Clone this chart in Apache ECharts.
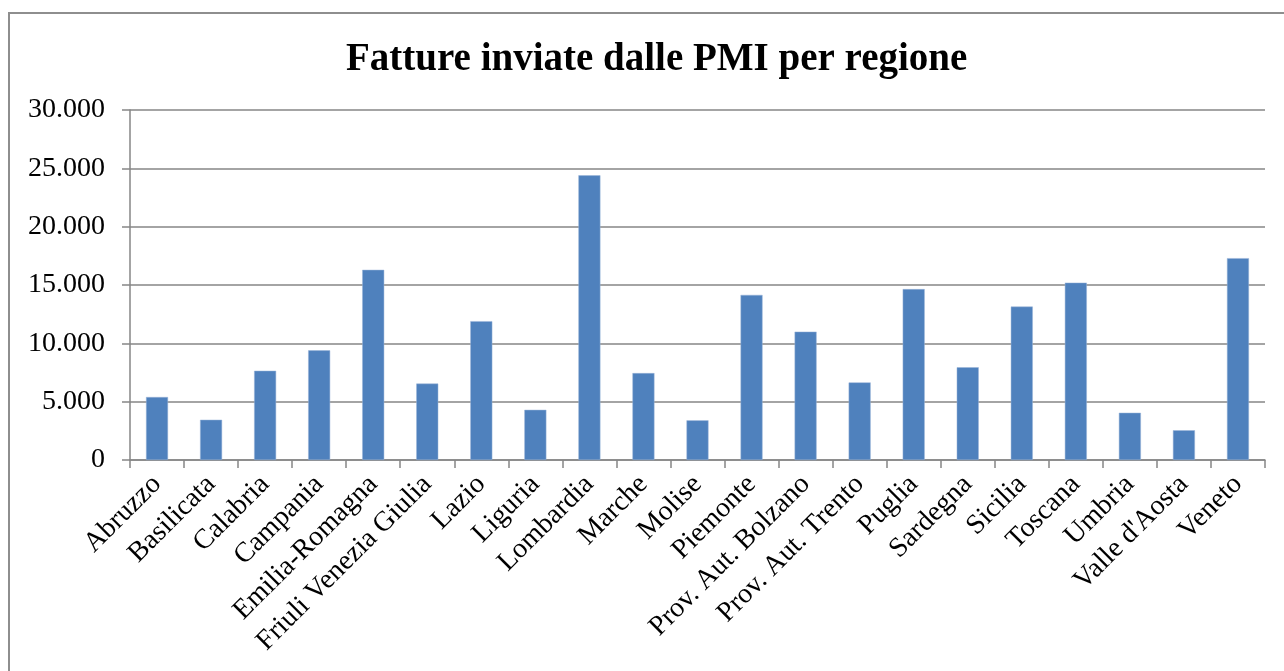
<!DOCTYPE html>
<html>
<head>
<meta charset="utf-8">
<title>Fatture inviate dalle PMI per regione</title>
<script src="https://cdn.jsdelivr.net/npm/echarts@6/dist/echarts.min.js"></script>
<style>
  html, body { margin: 0; padding: 0; background: #fff; }
  #chart { width: 1284px; height: 671px; }
</style>
</head>
<body>
<div id="chart"></div>
<script>
// regioni
const regioni = [
  'Abruzzo', 'Basilicata', 'Calabria', 'Campania', 'Emilia-Romagna',
  'Friuli Venezia Giulia', 'Lazio', 'Liguria', 'Lombardia', 'Marche',
  'Molise', 'Piemonte', 'Prov. Aut. Bolzano', 'Prov. Aut. Trento', 'Puglia',
  'Sardegna', 'Sicilia', 'Toscana', 'Umbria', "Valle d'Aosta", 'Veneto'
]
// fatture inviate
const fatture = [
  5400, 3450, 7650, 9400, 16300,
  6550, 11900, 4300, 24400, 7450,
  3400, 14150, 11000, 6650, 14650,
  7950, 13150, 15200, 4050, 2550, 17300
]

const serif = '"Liberation Serif", "DejaVu Serif", serif'
const grigio = '#868686'

function formatMigliaia (v) {
  return String(v).replace(/\B(?=(\d{3})+(?!\d))/g, '.')
}

const myChart = echarts.init(document.getElementById('chart'))
const option = {
  animation: false,
  backgroundColor: '#fff',
  title: {
    text: 'Fatture inviate dalle PMI per regione',
    left: 341,
    top: 35,
    textStyle: {
      fontFamily: serif,
      fontWeight: 'bold',
      fontSize: 39,
      color: '#000'
    }
  },
  graphic: [
    {
      type: 'rect',
      shape: { x: 9, y: 13, width: 1400, height: 800 },
      style: { fill: 'none', stroke: '#8e8e8e', lineWidth: 2 },
      silent: true
    }
  ],
  grid: {
    left: 130,
    right: 19,
    top: 110,
    bottom: 211
  },
  xAxis: {
    type: 'category',
    data: regioni,
    axisLine: { lineStyle: { color: grigio, width: 1.5 } },
    axisTick: { show: true, length: 8, lineStyle: { color: grigio, width: 1.5 } },
    axisLabel: {
      interval: 0,
      rotate: 45,
      margin: 20,
      fontFamily: serif,
      fontSize: 28,
      color: '#000'
    }
  },
  yAxis: {
    type: 'value',
    min: 0,
    max: 30000,
    interval: 5000,
    axisLine: { show: true, lineStyle: { color: grigio, width: 1.5 } },
    axisTick: { show: true, length: 8, lineStyle: { color: grigio, width: 1.5 } },
    splitLine: { lineStyle: { color: grigio, width: 1.5 } },
    axisLabel: {
      margin: 25,
      fontFamily: serif,
      fontSize: 28,
      color: '#000',
      formatter: formatMigliaia
    }
  },
  series: [
    {
      type: 'bar',
      data: fatture,
      barWidth: 22,
      itemStyle: {
        color: '#4f81bd',
        borderColor: '#9bb5d8',
        borderWidth: 0.5
      }
    }
  ]
}
myChart.setOption(option)
</script>
</body>
</html>
